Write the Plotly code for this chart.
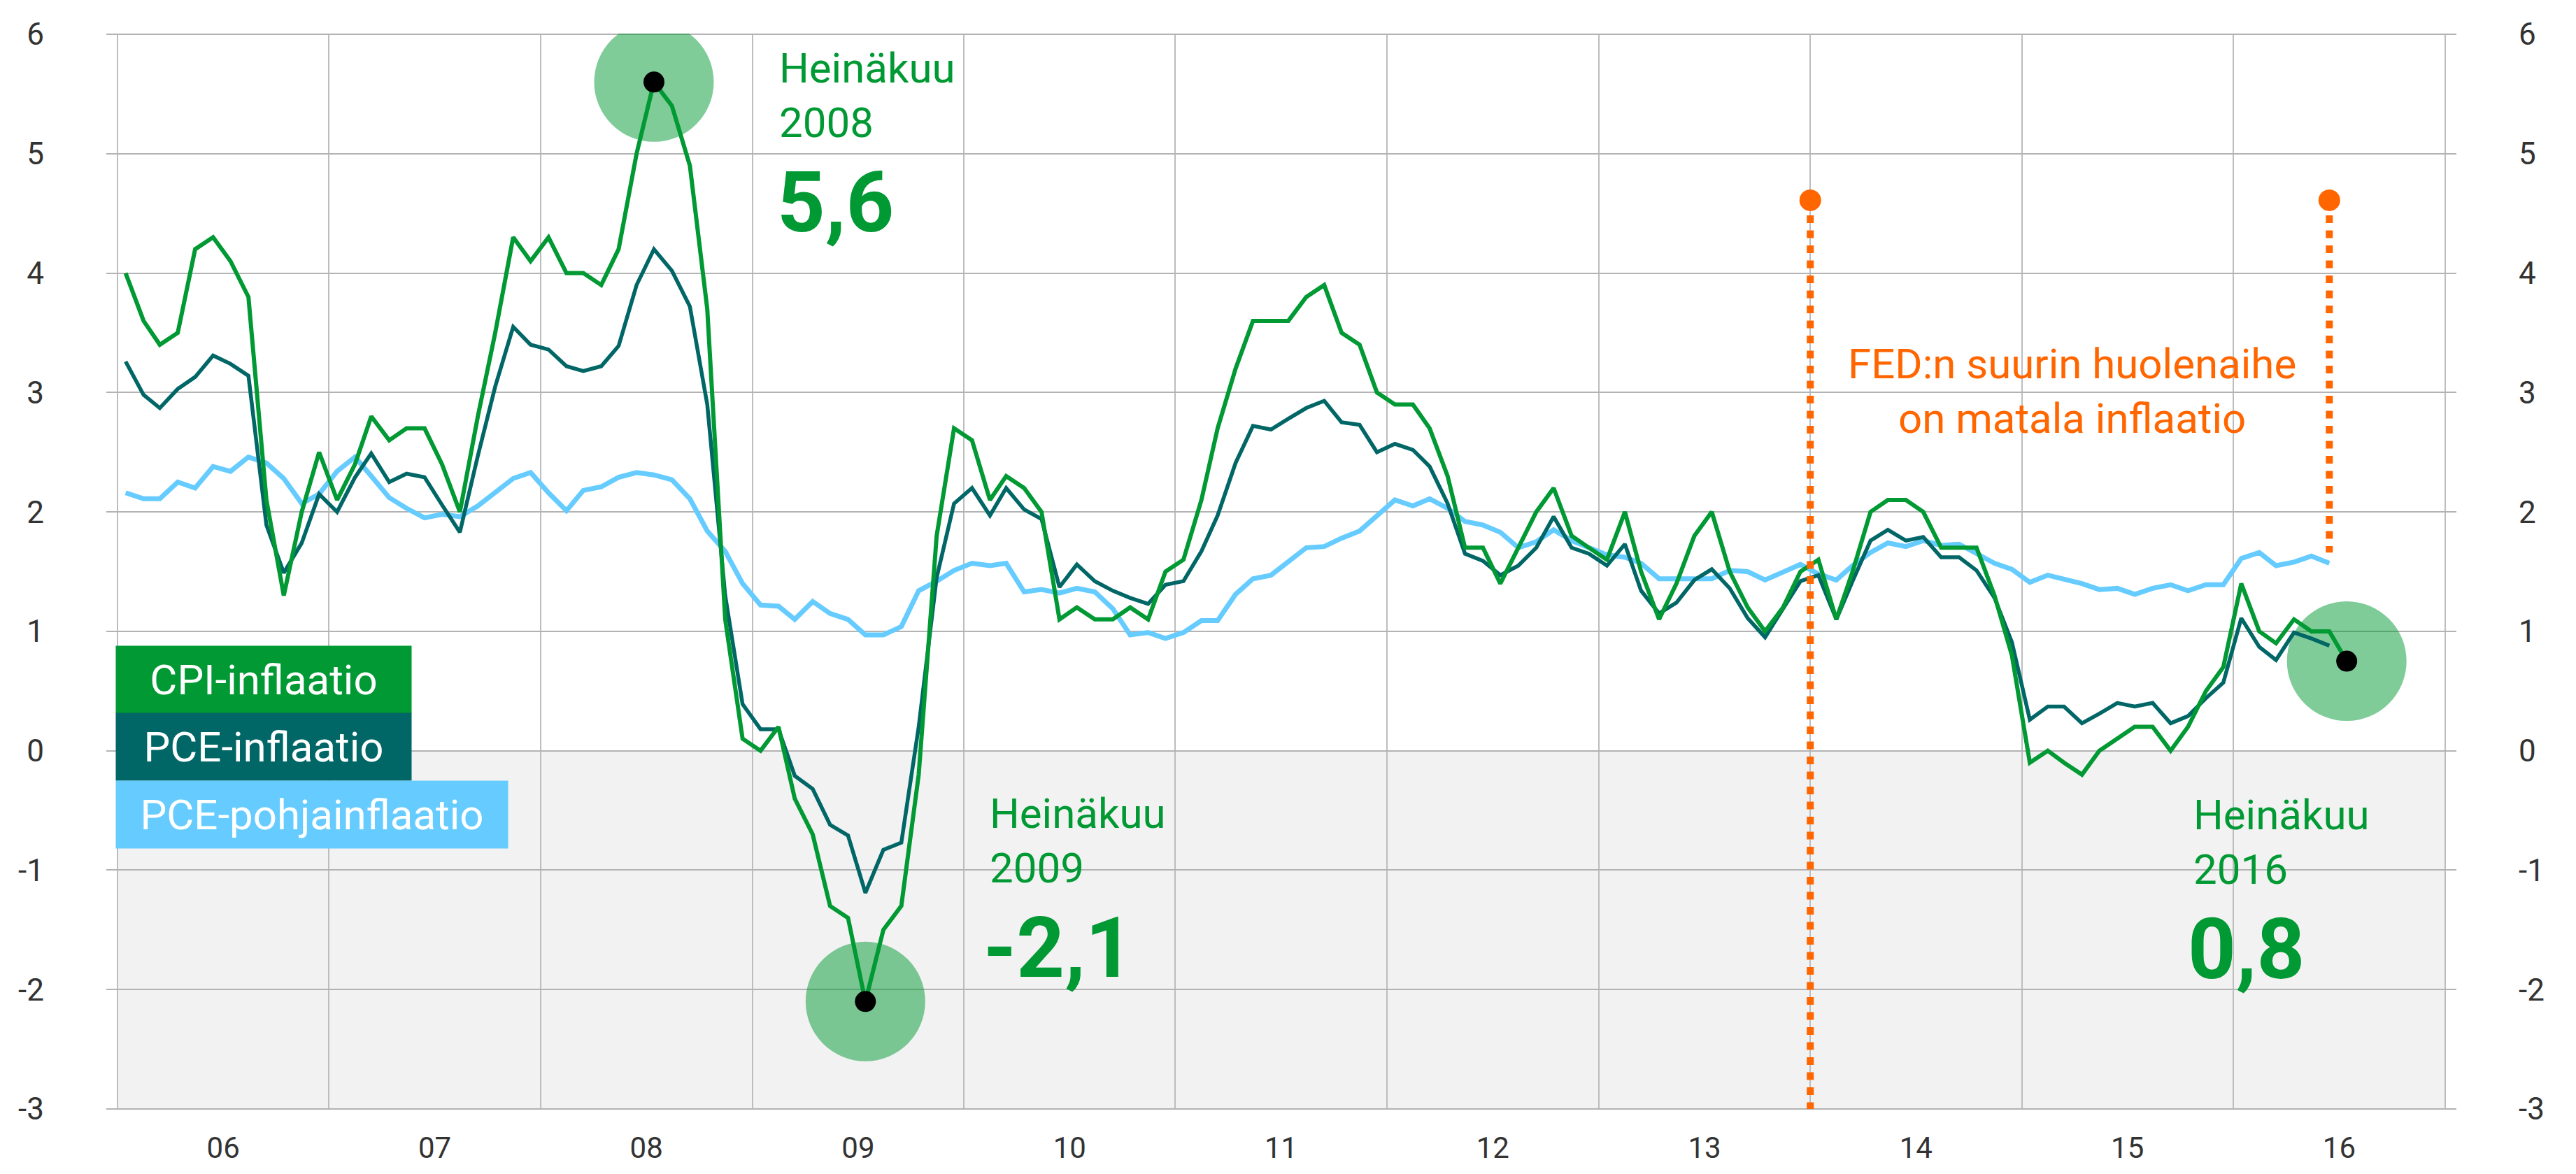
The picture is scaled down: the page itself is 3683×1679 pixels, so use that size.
import pandas as pd
import plotly.graph_objects as go

# kuukausittaiset havainnot, tammikuu 2006 - heinäkuu 2016 (kuun puoliväli)
months = pd.date_range("2006-01-01", periods=127, freq="MS") + pd.Timedelta(days=14)

cpi = [
    4.0, 3.6, 3.4, 3.5, 4.2, 4.3, 4.1, 3.8, 2.1, 1.3, 2.0, 2.5,
    2.1, 2.4, 2.8, 2.6, 2.7, 2.7, 2.4, 2.0, 2.8, 3.5, 4.3, 4.1,
    4.3, 4.0, 4.0, 3.9, 4.2, 5.0, 5.6, 5.4, 4.9, 3.7, 1.1, 0.1,
    0.0, 0.2, -0.4, -0.7, -1.3, -1.4, -2.1, -1.5, -1.3, -0.2, 1.8, 2.7,
    2.6, 2.1, 2.3, 2.2, 2.0, 1.1, 1.2, 1.1, 1.1, 1.2, 1.1, 1.5,
    1.6, 2.1, 2.7, 3.2, 3.6, 3.6, 3.6, 3.8, 3.9, 3.5, 3.4, 3.0,
    2.9, 2.9, 2.7, 2.3, 1.7, 1.7, 1.4, 1.7, 2.0, 2.2, 1.8, 1.7,
    1.6, 2.0, 1.5, 1.1, 1.4, 1.8, 2.0, 1.5, 1.2, 1.0, 1.2, 1.5,
    1.6, 1.1, 1.5, 2.0, 2.1, 2.1, 2.0, 1.7, 1.7, 1.7, 1.3, 0.8,
    -0.1, 0.0, -0.1, -0.2, 0.0, 0.1, 0.2, 0.2, 0.0, 0.2, 0.5, 0.7,
    1.4, 1.0, 0.9, 1.1, 1.0, 1.0, 0.75,
]

pce = [
    3.26, 2.98, 2.87, 3.03, 3.13, 3.31, 3.24, 3.14, 1.89, 1.49, 1.74, 2.15,
    2.00, 2.29, 2.49, 2.25, 2.32, 2.29, 2.06, 1.83, 2.47, 3.05, 3.55, 3.40,
    3.36, 3.22, 3.18, 3.22, 3.39, 3.90, 4.20, 4.02, 3.72, 2.90, 1.30, 0.39,
    0.18, 0.18, -0.21, -0.32, -0.62, -0.71, -1.19, -0.83, -0.77, 0.20, 1.45, 2.07,
    2.20, 1.97, 2.20, 2.02, 1.94, 1.37, 1.56, 1.42, 1.34, 1.28, 1.23, 1.39,
    1.42, 1.67, 1.97, 2.41, 2.72, 2.69, 2.78, 2.87, 2.93, 2.75, 2.73, 2.50,
    2.57, 2.52, 2.38, 2.07, 1.65, 1.59, 1.47, 1.55, 1.70, 1.96, 1.70, 1.65,
    1.55, 1.73, 1.34, 1.15, 1.24, 1.43, 1.52, 1.36, 1.11, 0.95, 1.19, 1.42,
    1.47, 1.10, 1.42, 1.76, 1.85, 1.76, 1.79, 1.62, 1.62, 1.51, 1.28, 0.91,
    0.26, 0.37, 0.37, 0.23, 0.31, 0.40, 0.37, 0.40, 0.23, 0.29, 0.44, 0.57,
    1.11, 0.87, 0.76, 0.99, 0.94, 0.88,
]

core = [
    2.16, 2.11, 2.11, 2.25, 2.20, 2.38, 2.34, 2.46, 2.41, 2.28, 2.07, 2.15,
    2.34, 2.46, 2.30, 2.12, 2.03, 1.95, 1.98, 1.96, 2.05, 2.16, 2.28, 2.33,
    2.16, 2.01, 2.18, 2.21, 2.29, 2.33, 2.31, 2.27, 2.11, 1.84, 1.67, 1.40,
    1.22, 1.21, 1.10, 1.25, 1.15, 1.10, 0.97, 0.97, 1.04, 1.34, 1.42, 1.51,
    1.57, 1.55, 1.57, 1.33, 1.35, 1.32, 1.36, 1.33, 1.19, 0.97, 0.99, 0.94,
    0.99, 1.09, 1.09, 1.31, 1.44, 1.47, 1.58, 1.70, 1.71, 1.78, 1.84, 1.97,
    2.10, 2.05, 2.11, 2.03, 1.92, 1.89, 1.83, 1.70, 1.75, 1.85, 1.76, 1.70,
    1.64, 1.62, 1.57, 1.44, 1.44, 1.45, 1.44, 1.51, 1.50, 1.43, 1.50, 1.56,
    1.48, 1.43, 1.55, 1.66, 1.74, 1.71, 1.76, 1.72, 1.73, 1.65, 1.57, 1.52,
    1.41, 1.47, 1.44, 1.40, 1.35, 1.36, 1.31, 1.36, 1.39, 1.34, 1.39, 1.39,
    1.61, 1.66, 1.55, 1.58, 1.63, 1.57,
]

series_names = ["CPI-inflaatio", "PCE-inflaatio", "PCE-pohjainflaatio"]
series_colors = ["#009933", "#006666", "#66ccff"]

# korostetut havainnot (indeksi kuukausilistassa)
highlight_idx = [30, 42, 126]
highlight_labels = ["Heinäkuu<br>2008", "Heinäkuu<br>2009", "Heinäkuu<br>2016"]
highlight_values = ["5,6", "-2,1", "0,8"]

fed_x = ["2014-01-01", "2016-06-15"]
fed_top = [4.61, 4.61]
fed_bottom = [-3.0, 1.66]
fed_text = "FED:n suurin huolenaihe<br>on matala inflaatio"

y_ticks = [-3, -2, -1, 0, 1, 2, 3, 4, 5, 6]
y_ticktext = ["-3", "-2", "-1", "0", "1", "2", "3", "4", "5", "6"]

FONT = "Roboto, Arial, sans-serif"
GREEN, TEAL, LIGHT, ORANGE = series_colors[0], series_colors[1], series_colors[2], "#ff6600"

fig = go.Figure()

hx = [months[i] for i in highlight_idx]
hy = [cpi[i] for i in highlight_idx]

# vaaleanvihreät ympyrät korostusten taakse
fig.add_trace(go.Scatter(x=hx, y=hy, mode="markers",
                         marker=dict(size=171, color="rgba(0,153,51,0.5)", line=dict(width=0)),
                         hoverinfo="skip", showlegend=False))

fig.add_trace(go.Scatter(x=months[:len(core)], y=core, mode="lines", name=series_names[2],
                         line=dict(color=LIGHT, width=7), showlegend=False))
fig.add_trace(go.Scatter(x=months[:len(pce)], y=pce, mode="lines", name=series_names[1],
                         line=dict(color=TEAL, width=5.5), showlegend=False))
fig.add_trace(go.Scatter(x=months, y=cpi, mode="lines", name=series_names[0],
                         line=dict(color=GREEN, width=6), showlegend=False))

fig.add_trace(go.Scatter(x=hx, y=hy, mode="markers",
                         marker=dict(size=30, color="black", line=dict(width=0)),
                         hoverinfo="skip", showlegend=False))

# FED-katkoviivat
for fx, ft, fb in zip(fed_x, fed_top, fed_bottom):
    fig.add_trace(go.Scatter(x=[fx, fx], y=[ft, fb], mode="lines",
                             line=dict(color=ORANGE, width=10, dash="11px,10.5px"),
                             hoverinfo="skip", showlegend=False))
fig.add_trace(go.Scatter(x=fed_x, y=fed_top, mode="markers",
                         marker=dict(size=31, color=ORANGE, line=dict(width=0)),
                         hoverinfo="skip", showlegend=False))

# oikea akseli tarvitsee jäljen
fig.add_trace(go.Scatter(x=months[:len(core)], y=core, mode="lines", yaxis="y2",
                         line=dict(width=0), opacity=0, hoverinfo="skip", showlegend=False))

# negatiivinen alue harmaaksi
fig.add_shape(type="rect", xref="x", yref="y", x0="2006-01-01", x1="2017-01-01", y0=-3, y1=0,
              fillcolor="#f2f2f2", line=dict(width=0), layer="below")

annotations = []

# selitelaatikot
legend_tops = [0.88, 0.318, -0.245]
legend_widths = [422, 422, 560]
for name, col, top, w in zip(series_names, series_colors, legend_tops, legend_widths):
    annotations.append(dict(xref="paper", yref="y", x=0.0039, y=top, xanchor="left", yanchor="top",
                            text=name, showarrow=False, bgcolor=col, width=w, height=96,
                            borderpad=0, align="center", valign="middle",
                            font=dict(family=FONT, size=60, color="white")))

label_x = [0.2857, 0.3753, 0.8875]
label_y = [5.49, -0.757, -0.769]
value_x = [0.2848, 0.3726, 0.8851]
value_y = [4.59, -1.653, -1.665]
for lab, lx, ly, val, vx, vy in zip(highlight_labels, label_x, label_y, highlight_values, value_x, value_y):
    annotations.append(dict(xref="paper", yref="y", x=lx, y=ly, xanchor="left", yanchor="middle",
                            text=lab, showarrow=False, align="left",
                            font=dict(family=FONT, size=60, color=GREEN)))
    annotations.append(dict(xref="paper", yref="y", x=vx, y=vy, xanchor="left", yanchor="middle",
                            text="<b>" + val + "</b>", showarrow=False, align="left",
                            font=dict(family=FONT, size=120, color=GREEN)))

annotations.append(dict(xref="paper", yref="y", x=0.8366, y=3.01, xanchor="center", yanchor="middle",
                        text=fed_text, showarrow=False, align="center",
                        font=dict(family=FONT, size=60, color=ORANGE)))

axis_font = dict(family=FONT, size=44, color="#333333")

fig.update_layout(
    width=3683, height=1679,
    margin=dict(l=152, r=171, t=48, b=92, autoexpand=False),
    paper_bgcolor="white", plot_bgcolor="white",
    showlegend=False,
    font=dict(family=FONT),
    annotations=annotations,
    xaxis=dict(
        type="date", automargin=False,
        range=["2005-12-12 16:00", "2017-01-20 08:00"],
        dtick="M12", tick0="2006-01-01", tickformat="%y", ticklabelmode="period",
        showgrid=True, gridcolor="#bdbdbd", gridwidth=1.5,
        ticks="", showline=False, zeroline=False,
        tickfont=dict(family=FONT, size=42, color="#333333"), ticklabelstandoff=26,
    ),
    yaxis=dict(
        automargin=False,
        range=[-3.006, 6.006], tickvals=y_ticks, ticktext=y_ticktext,
        showgrid=True, gridcolor="#b3b3b3", gridwidth=2.2,
        zeroline=False, showline=False, ticks="",
        tickfont=axis_font, ticklabelstandoff=88,
    ),
    yaxis2=dict(
        automargin=False,
        overlaying="y", side="right", anchor="x",
        range=[-3.006, 6.006], tickvals=y_ticks, ticktext=y_ticktext,
        showgrid=False, zeroline=False, showline=False, ticks="",
        tickfont=axis_font, ticklabelstandoff=88,
    ),
)

fig.write_html("out.html", config={"displayModeBar": False},
               post_script="document.body.style.margin='0';")
